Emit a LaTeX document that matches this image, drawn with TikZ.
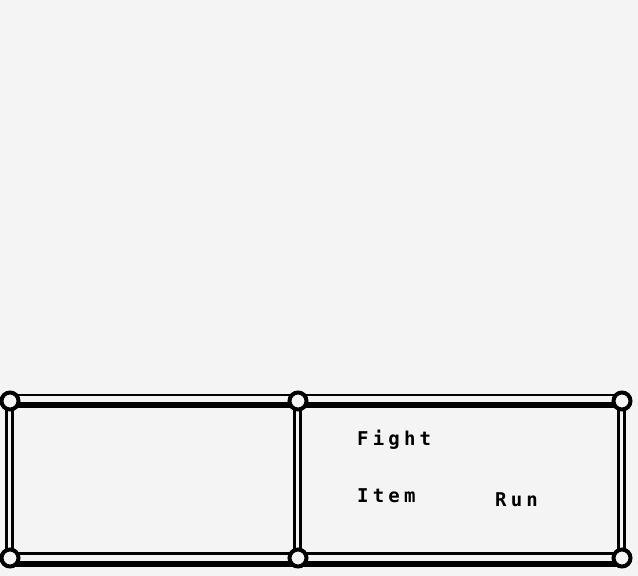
\documentclass[tikz,border=0pt]{standalone}
\usepackage{fontspec}
\newfontfamily\pixelfont[LetterSpace=22]{DejaVu Sans Mono Bold}
\usetikzlibrary{positioning, calc}
\definecolor{screen}{HTML}{F4F4F4}

\begin{document}
\begin{tikzpicture}[x=1pt, y=-1pt,
    thinrule/.style={line width=2.8pt, black},
    thickrule/.style={line width=6pt, black},
    knob/.style={circle, draw=black, line width=4pt, fill=screen, minimum size=17pt, inner sep=0pt},
    label/.style={font=\pixelfont\fontsize{19}{19}\selectfont, anchor=base west, inner sep=0pt}]
      \fill[screen] (0, 0) rectangle (638, 576);
      \useasboundingbox (0, 0) rectangle (638, 576);

      % corners of the two menu boxes
      \coordinate (tl) at (10, 401);
      \coordinate (tm) at (298, 401);
      \coordinate (tr) at (622, 401);
      \coordinate (bl) at (10, 558);
      \coordinate (bm) at (298, 558);
      \coordinate (br) at (622, 558);

      % top and bottom rails
      \foreach \a/\b in {tl/tm, tm/tr} {
        \draw[thinrule] ($(\a)+(0,-6)$) -- ($(\b)+(0,-6)$);
        \draw[thickrule] ($(\a)+(0,4)$) -- ($(\b)+(0,4)$);
      }
      \foreach \a/\b in {bl/bm, bm/br} {
        \draw[thinrule] ($(\a)+(0,-4.5)$) -- ($(\b)+(0,-4.5)$);
        \draw[thickrule] ($(\a)+(0,6)$) -- ($(\b)+(0,6)$);
      }
      % side rails
      \foreach \a/\b in {tl/bl, tm/bm, tr/br} {
        \draw[thinrule] ($(\a)+(-3.5,0)$) -- ($(\b)+(-3.5,0)$);
        \draw[thinrule] ($(\a)+(2.5,0)$) -- ($(\b)+(2.5,0)$);
      }
      % corner knobs
      \foreach \c in {tl, tm, tr, bl, bm, br}
        \node[knob] (k\c) at (\c) {};

      % menu entries
      \node[label] (fight) at (357, 445) {Fight};
      \node[label] (item) at (357, 502) {Item};
      \node[label] (run) at (495, 506) {Run};
\end{tikzpicture}
\end{document}
